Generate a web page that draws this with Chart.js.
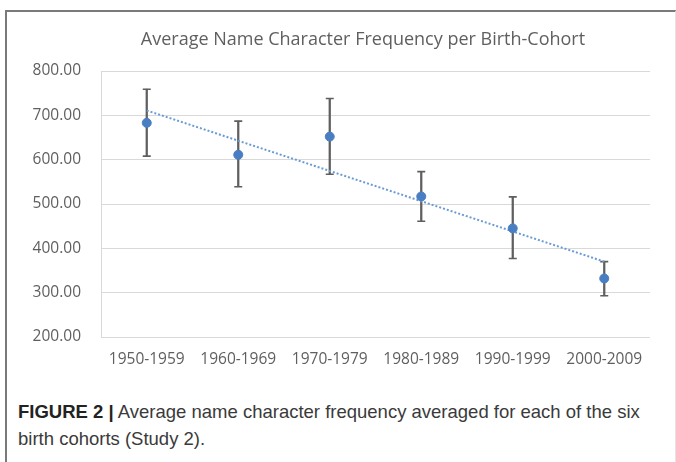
<!DOCTYPE html>
<html>
<head>
<meta charset="utf-8">
<script src="https://cdn.jsdelivr.net/npm/chart.js@4"></script>
<style>
  body { margin: 0; background: #fff; width: 676px; height: 462px; overflow: hidden; position: relative; }
  #frame { position: absolute; left: 5px; top: 10px; width: 668px; height: 460px;
           border-top: 2px solid #7a7a7a; border-left: 2px solid #7a7a7a; border-right: 1px solid #e4e4e4; }
  #wrap { position: absolute; left: 0; top: 0; width: 676px; height: 383px; }
  #titulo { position: absolute; left: 0; top: 26px; width: 726px; text-align: center;
            font-family: "Open Sans", sans-serif; font-size: 18px; line-height: 24px; color: #5f5f5f; }
  #caption { position: absolute; left: 18px; top: 398px; width: 660px;
             font-family: "Liberation Sans", sans-serif;
             font-size: 18.5px; line-height: 27px; color: #3a3a3a; }
  #caption b { color: #222; }
</style>
</head>
<body>
<div id="frame"></div>
<div id="wrap"><canvas id="myChart"></canvas></div>
<div id="titulo">Average Name Character Frequency per Birth-Cohort</div>
<div id="caption"><b>FIGURE 2 |</b> Average name character frequency averaged for each of the six<br>birth cohorts (Study 2).</div>
<script>
// Datos
const cohortes = ["1950-1959", "1960-1969", "1970-1979", "1980-1989", "1990-1999", "2000-2009"]
const promedios = [683, 611, 652, 517, 445, 332]
const limiteSup = [759, 687, 738, 573, 516, 370]
const limiteInf = [608, 539, 567, 461, 377, 293]
const tendencia = [711, null, null, null, null, 370]
const ticksY = [200, 300, 400, 500, 600, 700, 800]

const gris = "#5f5f5f"
const azul = "#4a7ec2"

function configurarGrafica() {
    const config = {
        data: {
            labels: cohortes,
            datasets: [
                {
                    type: "line",
                    label: "Media",
                    data: promedios,
                    showLine: false,
                    pointRadius: 4.5,
                    pointBackgroundColor: azul,
                    pointBorderColor: azul,
                    order: 0
                },
                {
                    type: "line",
                    label: "Tendencia",
                    data: tendencia,
                    spanGaps: true,
                    borderColor: "#6a9bd3",
                    borderWidth: 2,
                    borderDash: [2, 2],
                    pointRadius: 0,
                    order: 1
                },
                {
                    type: "bar",
                    label: "Error",
                    data: cohortes.map((c, i) => [limiteInf[i], limiteSup[i]]),
                    backgroundColor: gris,
                    barThickness: 1.6,
                    order: 2
                },
                {
                    type: "line",
                    label: "Sup",
                    data: limiteSup,
                    showLine: false,
                    pointStyle: "line",
                    pointRadius: 4,
                    borderColor: gris,
                    pointBorderWidth: 1.6,
                    order: 2
                },
                {
                    type: "line",
                    label: "Inf",
                    data: limiteInf,
                    showLine: false,
                    pointStyle: "line",
                    pointRadius: 4,
                    borderColor: gris,
                    pointBorderWidth: 1.6,
                    order: 2
                }
            ]
        },
        options: {
            responsive: true,
            maintainAspectRatio: false,
            animation: false,
            layout: { padding: { left: 0, right: 26, top: 71, bottom: 0 } },
            plugins: {
                legend: { display: false },
                tooltip: { enabled: false },
                title: { display: false }
            },
            scales: {
                x: {
                    offset: true,
                    grid: { display: false, drawTicks: false },
                    border: { display: false },
                    ticks: { color: gris, font: { family: "Open Sans", size: 15.5 }, padding: 13.7, maxRotation: 0 }
                },
                y: {
                    min: 200,
                    max: 800,
                    afterFit: (scale) => { scale.width = 101 },
                    afterBuildTicks: (scale) => { scale.ticks = ticksY.map(v => ({ value: v })) },
                    grid: { color: "#d9d9d9", lineWidth: 1, drawTicks: false },
                    border: { display: true, color: "#d9d9d9" },
                    ticks: {
                        color: gris,
                        font: { family: "Open Sans", size: 15.5 },
                        padding: 20,
                        callback: (v) => v.toFixed(2)
                    }
                }
            }
        }
    }
    return config
}

const chartDOM = document.querySelector("#myChart").getContext("2d")
const myChart = new Chart(chartDOM, configurarGrafica())
</script>
</body>
</html>
